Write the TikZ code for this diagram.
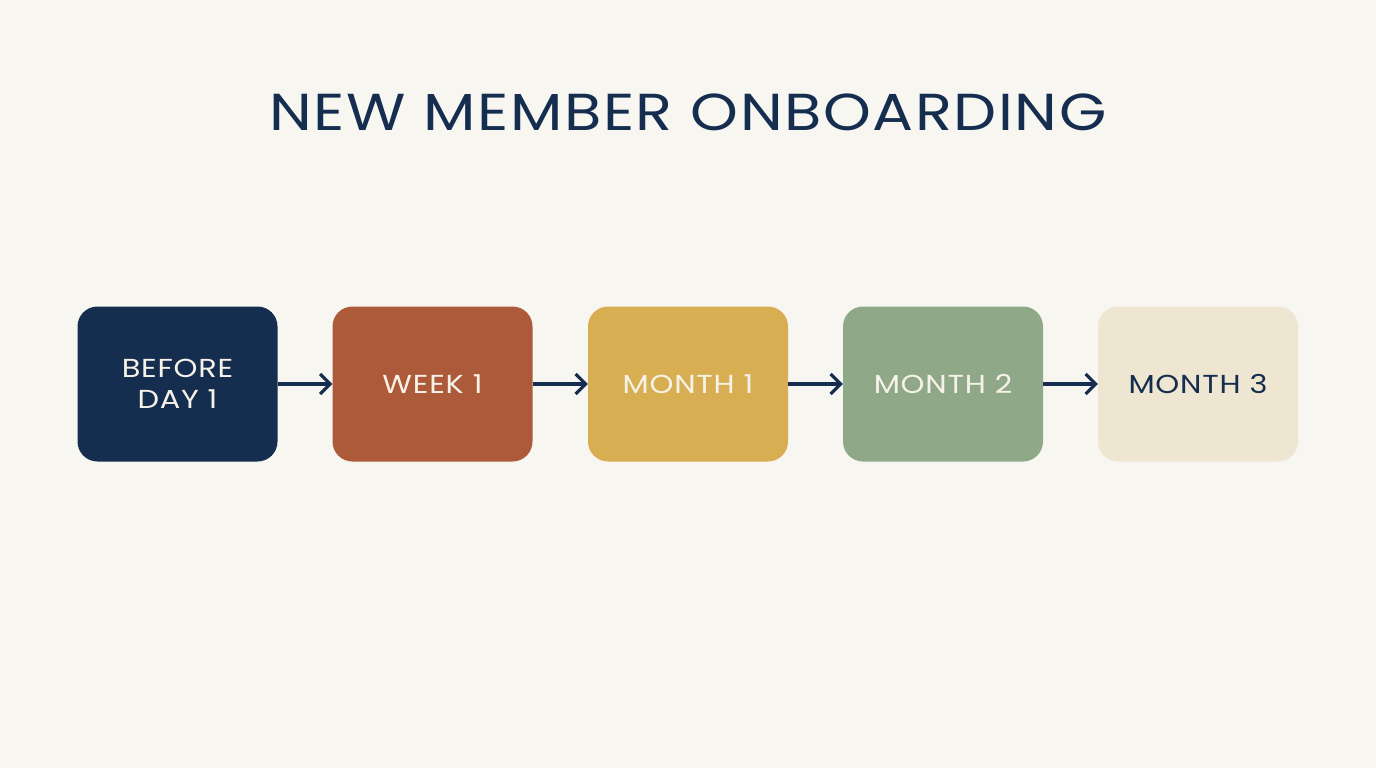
\documentclass[tikz,border=0pt]{standalone}
\usepackage{fontspec}
\setmainfont{Poppins}[FakeStretch=1.17, LetterSpace=3]
\usetikzlibrary{arrows.meta}
\definecolor{bg}{HTML}{F7F6F1}
\definecolor{navy}{HTML}{152D4F}
\definecolor{rust}{HTML}{AD5A3A}
\definecolor{mustard}{HTML}{D8AE52}
\definecolor{sage}{HTML}{8FA888}
\definecolor{cream}{HTML}{EFE6D2}
\definecolor{lighttext}{HTML}{F7F2E8}
\tikzset{
  stage/.style={rounded corners=20pt, minimum width=200pt, minimum height=155pt,
    inner sep=0pt, align=center, font=\fontsize{26}{31}\selectfont, text=lighttext},
  flow/.style={draw=navy, line width=3.2pt, -{Straight Barb[length=10pt,width=20pt,line width=3.2pt]}}
}
\begin{document}
\begin{tikzpicture}[x=1pt,y=-1pt]
\fill[bg] (0,0) rectangle (1376,768);
\useasboundingbox (0,0) rectangle (1376,768);
\node[text=navy, font=\fontsize{52}{62}\selectfont] (title) at (688,112) {NEW MEMBER ONBOARDING};
\node[stage, fill=navy] (s1) at (177.5,384) {BEFORE\\DAY 1};
\node[stage, fill=rust] (s2) at (432.5,384) {WEEK 1};
\node[stage, fill=mustard] (s3) at (688,384) {MONTH 1};
\node[stage, fill=sage] (s4) at (943,384) {MONTH 2};
\node[stage, fill=cream, text=navy] (s5) at (1198,384) {MONTH 3};
\draw[flow] (s1) -- (s2);
\draw[flow] (s2) -- (s3);
\draw[flow] (s3) -- (s4);
\draw[flow] (s4) -- (s5);
\end{tikzpicture}
\end{document}
